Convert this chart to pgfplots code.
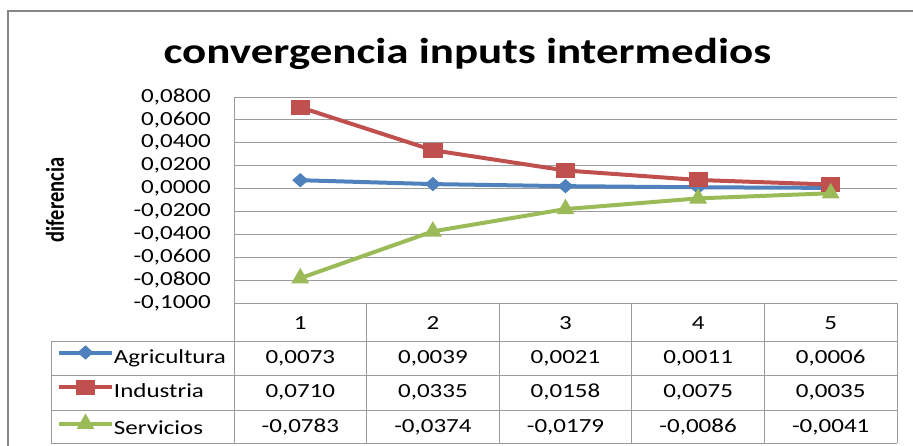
\documentclass[border=0pt]{standalone}
\usepackage{pgfplots}
\pgfplotsset{compat=1.18}
\usepackage{fontspec}
\setmainfont{Carlito}[FakeStretch=1.25]
\newfontfamily\ylabfont{Carlito}
\usepackage{graphicx}
\definecolor{cA}{HTML}{4F81BD}
\definecolor{cI}{HTML}{C0504D}
\definecolor{cS}{HTML}{9BBB59}
\definecolor{gridc}{RGB}{155,155,155}
\definecolor{framec}{RGB}{134,134,134}
\begin{document}
\begin{tikzpicture}
\draw[framec, line width=2pt] (7.7pt,-446pt) -- (7.7pt,-10.7pt) -- (914pt,-10.7pt);
\begin{axis}[
  at={(234pt,-303pt)}, anchor=south west,
  scale only axis, width=663pt, height=206pt,
  xmin=0.5, xmax=5.5, ymin=-0.1, ymax=0.08,
  xtick=\empty,
  ytick={-0.1,-0.08,-0.06,-0.04,-0.02,0,0.02,0.04,0.06,0.08},
  yticklabels={{-0,1000},{-0,0800},{-0,0600},{-0,0400},{-0,0200},{0,0000},{0,0200},{0,0400},{0,0600},{0,0800}},
  major tick length=0pt,
  yticklabel style={font=\fontsize{20}{24}\selectfont, inner sep=0pt, xshift=-23pt},
  axis x line*=bottom, axis y line*=left,
  axis line style={gridc, line width=0.8pt, -},
  ymajorgrids, grid style={gridc, line width=0.8pt},
  title={convergencia inputs intermedios},
  title style={font=\bfseries\fontsize{36}{40}\selectfont, at={(axis description cs:0.352,1.132)}, anchor=base, inner sep=0pt},
  ylabel={\scalebox{1}[1.25]{\ylabfont\bfseries\fontsize{20.5}{24}\selectfont diferencia}},
  ylabel style={at={(axis description cs:-0.27,0.5)}, anchor=center, inner sep=0pt},
  legend style={at={(axis description cs:-0.267,-0.2087)}, anchor=north west, draw=none, fill=none,
    inner sep=0pt, outer sep=0pt, row sep=12pt, column sep=0pt,
    nodes={inner sep=0pt, text height=17pt, text depth=5pt},
    font=\fontsize{20}{24}\selectfont},
  legend cell align=left,
  legend image code/.code={\draw[mark repeat=2,mark phase=2,#1] plot coordinates {(0pt,4.5pt) (26.5pt,4.5pt) (53pt,4.5pt)};},
  clip=false,
]
\addplot[cA, line width=4pt, mark=diamond*, mark size=6.5pt, mark options={xscale=1.5, line width=1pt}]
  coordinates {(1,0.0073) (2,0.0039) (3,0.0021) (4,0.0011) (5,0.0006)};
\addlegendentry{Agricultura}
\addplot[cI, line width=4pt, mark=square*, mark size=7pt, mark options={xscale=1.3, line width=1pt}]
  coordinates {(1,0.0710) (2,0.0335) (3,0.0158) (4,0.0075) (5,0.0035)};
\addlegendentry{Industria}
\addplot[cS, line width=4pt, mark=triangle*, mark size=9.3pt, mark options={line width=1pt}]
  coordinates {(1,-0.0783) (2,-0.0374) (3,-0.0179) (4,-0.0086) (5,-0.0041)};
\addlegendentry{Servicios}
\end{axis}
% data table
\begin{scope}[gridc, line width=0.8pt]
  \draw (51pt,-341pt) -- (897pt,-341pt);
  \draw (51pt,-375pt) -- (897pt,-375pt);
  \draw (51pt,-410pt) -- (897pt,-410pt);
  \draw (51pt,-443pt) -- (897pt,-443pt);
  \draw (51pt,-341pt) -- (51pt,-443pt);
  \foreach \xx in {234,366.6,499.2,631.8,764.4,897}{\draw (\xx pt,-303pt) -- (\xx pt,-443pt);}
\end{scope}
\begin{scope}[every node/.style={anchor=base, inner sep=0pt, font=\fontsize{20}{24}\selectfont}]
  \node at (300.3pt,-329pt) {1};
  \node at (432.9pt,-329pt) {2};
  \node at (565.5pt,-329pt) {3};
  \node at (698.1pt,-329pt) {4};
  \node at (830.7pt,-329pt) {5};
  \node at (300.3pt,-363pt) {0,0073};
  \node at (432.9pt,-363pt) {0,0039};
  \node at (565.5pt,-363pt) {0,0021};
  \node at (698.1pt,-363pt) {0,0011};
  \node at (830.7pt,-363pt) {0,0006};
  \node at (300.3pt,-397pt) {0,0710};
  \node at (432.9pt,-397pt) {0,0335};
  \node at (565.5pt,-397pt) {0,0158};
  \node at (698.1pt,-397pt) {0,0075};
  \node at (830.7pt,-397pt) {0,0035};
  \node at (300.3pt,-432pt) {-0,0783};
  \node at (432.9pt,-432pt) {-0,0374};
  \node at (565.5pt,-432pt) {-0,0179};
  \node at (698.1pt,-432pt) {-0,0086};
  \node at (830.7pt,-432pt) {-0,0041};
\end{scope}
\pgfresetboundingbox
\path[use as bounding box] (0pt,0pt) rectangle (913pt,-445pt);
\end{tikzpicture}
\end{document}
